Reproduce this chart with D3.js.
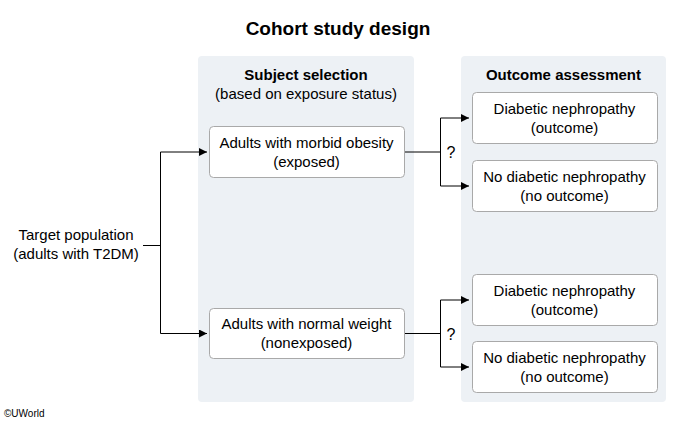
<!DOCTYPE html>
<html><head><meta charset="utf-8">
<script src="https://cdn.jsdelivr.net/npm/d3@7"></script>
<style>body{margin:0;background:#fff}text{font-family:"Liberation Sans",Arial,sans-serif;fill:#000}</style>
</head><body><svg id="c" width="677" height="421"></svg>
<script>
const title = "Cohort study design";
const panels = [
  {x: 198, y: 56, w: 216, h: 346, lines: ["Subject selection", "(based on exposure status)"]},
  {x: 461, y: 56, w: 205, h: 346, lines: ["Outcome assessment"]}
];
const exposureBoxes = [
  {y: 126, h: 51, lines: ["Adults with morbid obesity", "(exposed)"]},
  {y: 308, h: 50, lines: ["Adults with normal weight", "(nonexposed)"]}
];
const outcomeBoxes = [
  {y: 92, lines: ["Diabetic nephropathy", "(outcome)"]},
  {y: 160, lines: ["No diabetic nephropathy", "(no outcome)"]},
  {y: 274, lines: ["Diabetic nephropathy", "(outcome)"]},
  {y: 341, lines: ["No diabetic nephropathy", "(no outcome)"]}
];
const target = ["Target population", "(adults with T2DM)"];

const svg = d3.select("#c");
svg.append("defs").append("marker").attr("id","ar").attr("viewBox","0 0 10 10")
  .attr("refX",10).attr("refY",5).attr("markerWidth",8).attr("markerHeight",8)
  .attr("markerUnits","userSpaceOnUse").attr("orient","auto")
  .append("path").attr("d","M0,0L10,5L0,10Z").attr("fill","#000");

svg.append("text").attr("x",338).attr("y",35).attr("text-anchor","middle")
  .attr("font-size",19).attr("font-weight","bold").text(title);

panels.forEach(p => {
  svg.append("rect").attr("x",p.x).attr("y",p.y).attr("width",p.w).attr("height",p.h)
    .attr("rx",4).attr("fill","#edf1f5");
  p.lines.forEach((l,i) => svg.append("text").attr("x",p.x+p.w/2).attr("y",p.y+24+i*19)
    .attr("text-anchor","middle").attr("font-size",15)
    .attr("font-weight",i===0?"bold":"normal").text(l));
});

function box(x,y,w,h,lines){
  svg.append("rect").attr("x",x+0.5).attr("y",y+0.5).attr("width",w).attr("height",h)
    .attr("rx",4).attr("fill","#fff").attr("stroke","#a9a9a9");
  lines.forEach((l,i)=>svg.append("text").attr("x",x+w/2).attr("y",y+h/2-4+i*19)
    .attr("text-anchor","middle").attr("font-size",15).text(l));
}
exposureBoxes.forEach(b => box(209,b.y,195,b.h,b.lines));
outcomeBoxes.forEach(b => box(472,b.y,185,51,b.lines));

target.forEach((l,i)=>svg.append("text").attr("x",76).attr("y",240+i*19)
  .attr("text-anchor","middle").attr("font-size",15).text(l));

const line = (pts, arrow) => svg.append("path").attr("d", d3.line()(pts))
  .attr("fill","none").attr("stroke","#000").attr("stroke-width",1)
  .attr("marker-end", arrow ? "url(#ar)" : null);

const cy = exposureBoxes.map(b => b.y + b.h/2 + 0.5);
line([[143,245.5],[160.5,245.5]]);
line([[160.5,cy[0]],[160.5,cy[1]]]);
line([[160.5,cy[0]],[207,cy[0]]], true);
line([[160.5,cy[1]],[207,cy[1]]], true);
exposureBoxes.forEach((b,k) => {
  const oy = [outcomeBoxes[2*k].y+26, outcomeBoxes[2*k+1].y+26];
  line([[405,cy[k]],[440.5,cy[k]]]);
  line([[440.5,oy[0]],[440.5,oy[1]]]);
  line([[440.5,oy[0]],[469,oy[0]]], true);
  line([[440.5,oy[1]],[469,oy[1]]], true);
  svg.append("text").attr("x",451).attr("y",cy[k]+6).attr("text-anchor","middle")
    .attr("font-size",16).text("?");
});

svg.append("text").attr("x",4).attr("y",417).attr("font-size",10).text("©UWorld");
</script></body></html>
